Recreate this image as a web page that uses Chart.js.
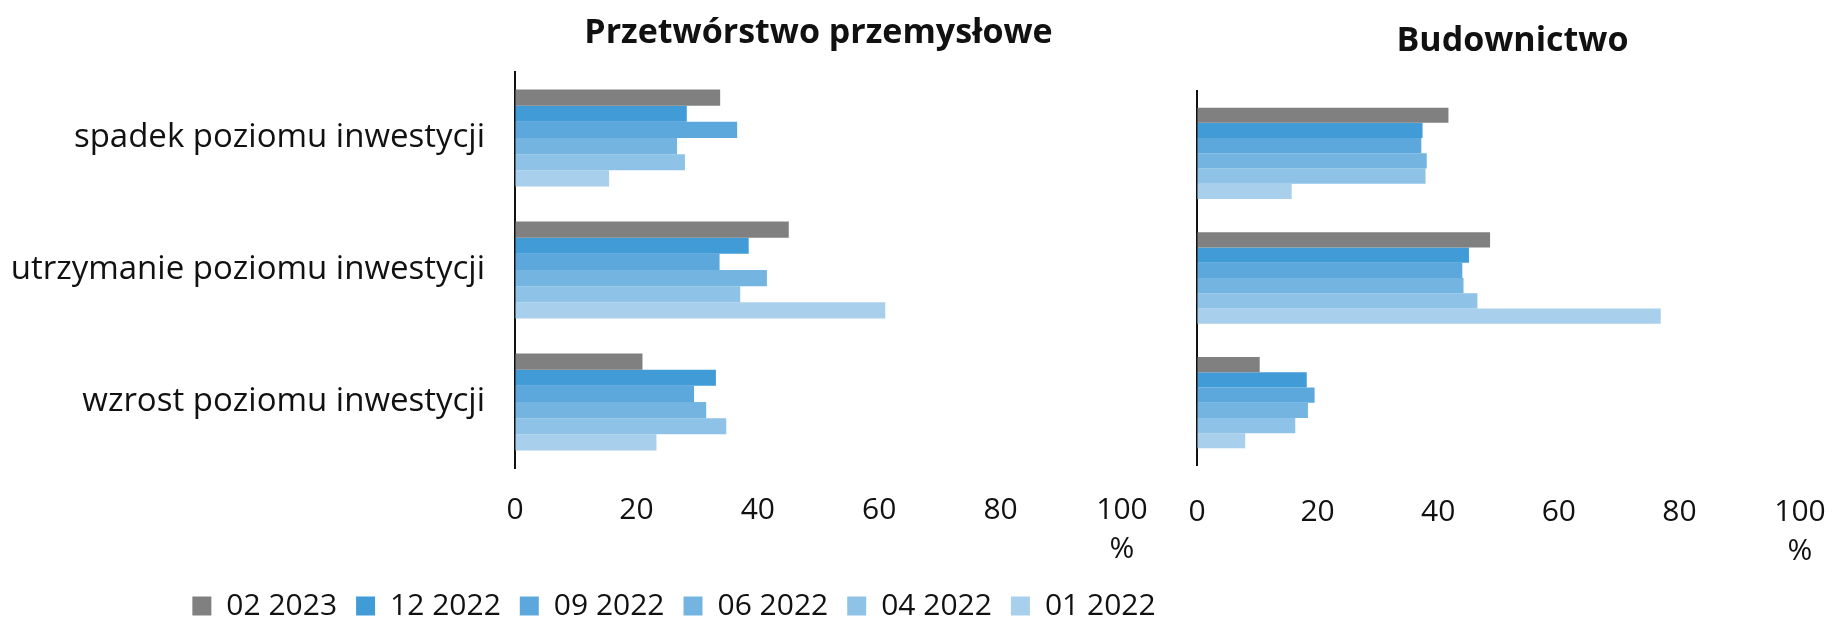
<!DOCTYPE html>
<html>
<head>
<meta charset="utf-8">
<script src="https://cdn.jsdelivr.net/npm/chart.js@4/dist/chart.umd.min.js"></script>
<style>
  body { margin: 0; background: #fff; }
  #wrap { position: relative; width: 1835px; height: 619px; overflow: hidden; }
  canvas { position: absolute; top: 0; }
  #left { left: 0; }
  #right { left: 1150px; }
</style>
</head>
<body>
<div id="wrap">
  <canvas id="left" width="1348" height="631"></canvas>
  <canvas id="right" width="685" height="619"></canvas>
</div>
<script>
// categories (y axis)
const categories = ["spadek poziomu inwestycji", "utrzymanie poziomu inwestycji", "wzrost poziomu inwestycji"];
// survey rounds (legend order, top bar first)
const rounds = ["02 2023", "12 2022", "09 2022", "06 2022", "04 2022", "01 2022"];
const roundColors = ["#808080", "#419bd7", "#5ca8dc", "#74b4e0", "#8ec3e7", "#a8cfeb"];
const xTicks = [0, 20, 40, 60, 80, 100];

// Przetwórstwo przemysłowe, % firm
const manuf0223 = [33.8, 45.1, 21.0];
const manuf1222 = [28.3, 38.5, 33.1];
const manuf0922 = [36.6, 33.7, 29.5];
const manuf0622 = [26.7, 41.5, 31.5];
const manuf0422 = [28.0, 37.1, 34.8];
const manuf0122 = [15.5, 61.0, 23.3];

// Budownictwo, % firm
const constr0223 = [41.7, 48.6, 10.4];
const constr1222 = [37.4, 45.1, 18.2];
const constr0922 = [37.2, 44.0, 19.5];
const constr0622 = [38.1, 44.2, 18.4];
const constr0422 = [37.9, 46.5, 16.3];
const constr0122 = [15.7, 76.9, 8.0];

const manufSeries = [manuf0223, manuf1222, manuf0922, manuf0622, manuf0422, manuf0122];
const constrSeries = [constr0223, constr1222, constr0922, constr0622, constr0422, constr0122];

const FONT = "'Open Sans', 'Noto Sans', sans-serif";
const TEXT = "#111";

// panel title, centred over the plot area
const panelTitle = {
  id: "panelTitle",
  afterDraw(chart, args, opts) {
    const { ctx, chartArea } = chart;
    ctx.save();
    ctx.font = "bold 34px " + FONT;
    ctx.fillStyle = TEXT;
    ctx.textAlign = "center";
    ctx.textBaseline = "middle";
    ctx.fillText(opts.text, (chartArea.left + chartArea.right) / 2 + (opts.offsetX || 0), opts.y);
    ctx.restore();
  },
};

function makeDatasets(series) {
  return series.map(function (vals, i) {
    return {
      label: rounds[i],
      data: vals,
      backgroundColor: roundColors[i],
      borderWidth: 0,
      barPercentage: 1.0,
      categoryPercentage: 0.733,
    };
  });
}

// gap under the plot comes from an invisible tick mark, so the label
// padding does not widen the right margin
function xScale(gap, height) {
  return {
    type: "linear",
    min: xTicks[0],
    max: xTicks[xTicks.length - 1],
    afterBuildTicks: function (scale) {
      scale.ticks = xTicks.map(function (v) { return { value: v }; });
    },
    afterFit: function (scale) { scale.height = height; },
    grid: {
      display: true,
      drawOnChartArea: false,
      drawTicks: true,
      tickLength: gap,
      color: "rgba(0,0,0,0)",
    },
    border: { display: false },
    ticks: {
      padding: 0,
      color: TEXT,
      font: { family: FONT, size: 30, lineHeight: 1.3 },
      callback: function (v) { return v === 100 ? ["100", "%"] : String(v); },
    },
  };
}

function yScale(width, showLabels) {
  return {
    type: "category",
    afterFit: function (scale) { scale.width = width; },
    grid: { display: false, drawTicks: false },
    border: { display: true, color: "#111", width: 2 },
    ticks: {
      display: showLabels,
      padding: 30,
      color: TEXT,
      font: { family: FONT, size: 33 },
    },
  };
}

// empty right-hand spacer axis: keeps the plot narrow while the legend
// can use the whole canvas width
const spacerAxis = {
  type: "category",
  position: "right",
  afterFit: function (scale) { scale.width = 226; },
  grid: { display: false, drawTicks: false },
  border: { display: false },
  ticks: { display: false },
};

new Chart(document.getElementById("left"), {
  type: "bar",
  data: { labels: categories, datasets: makeDatasets(manufSeries) },
  plugins: [panelTitle],
  options: {
    indexAxis: "y",
    responsive: false,
    animation: false,
    layout: { padding: { top: 72, right: 0, left: 0, bottom: 0 } },
    scales: { x: xScale(22.5, 104), y: yScale(515, true), spacer: spacerAxis },
    plugins: {
      panelTitle: { text: "Przetwórstwo przemysłowe", y: 33 },
      title: { display: false },
      tooltip: { enabled: false },
      legend: {
        position: "bottom",
        labels: {
          boxWidth: 19,
          boxHeight: 19,
          padding: 19,
          color: TEXT,
          font: { family: FONT, size: 30 },
        },
      },
    },
  },
});

new Chart(document.getElementById("right"), {
  type: "bar",
  data: { labels: categories, datasets: makeDatasets(constrSeries) },
  plugins: [panelTitle],
  options: {
    indexAxis: "y",
    responsive: false,
    animation: false,
    layout: { padding: { top: 91, right: 35, left: 0, bottom: 0 } },
    scales: { x: xScale(28, 154), y: yScale(47, false) },
    plugins: {
      panelTitle: { text: "Budownictwo", y: 41, offsetX: 14 },
      title: { display: false },
      tooltip: { enabled: false },
      legend: { display: false },
    },
  },
});
</script>
</body>
</html>
